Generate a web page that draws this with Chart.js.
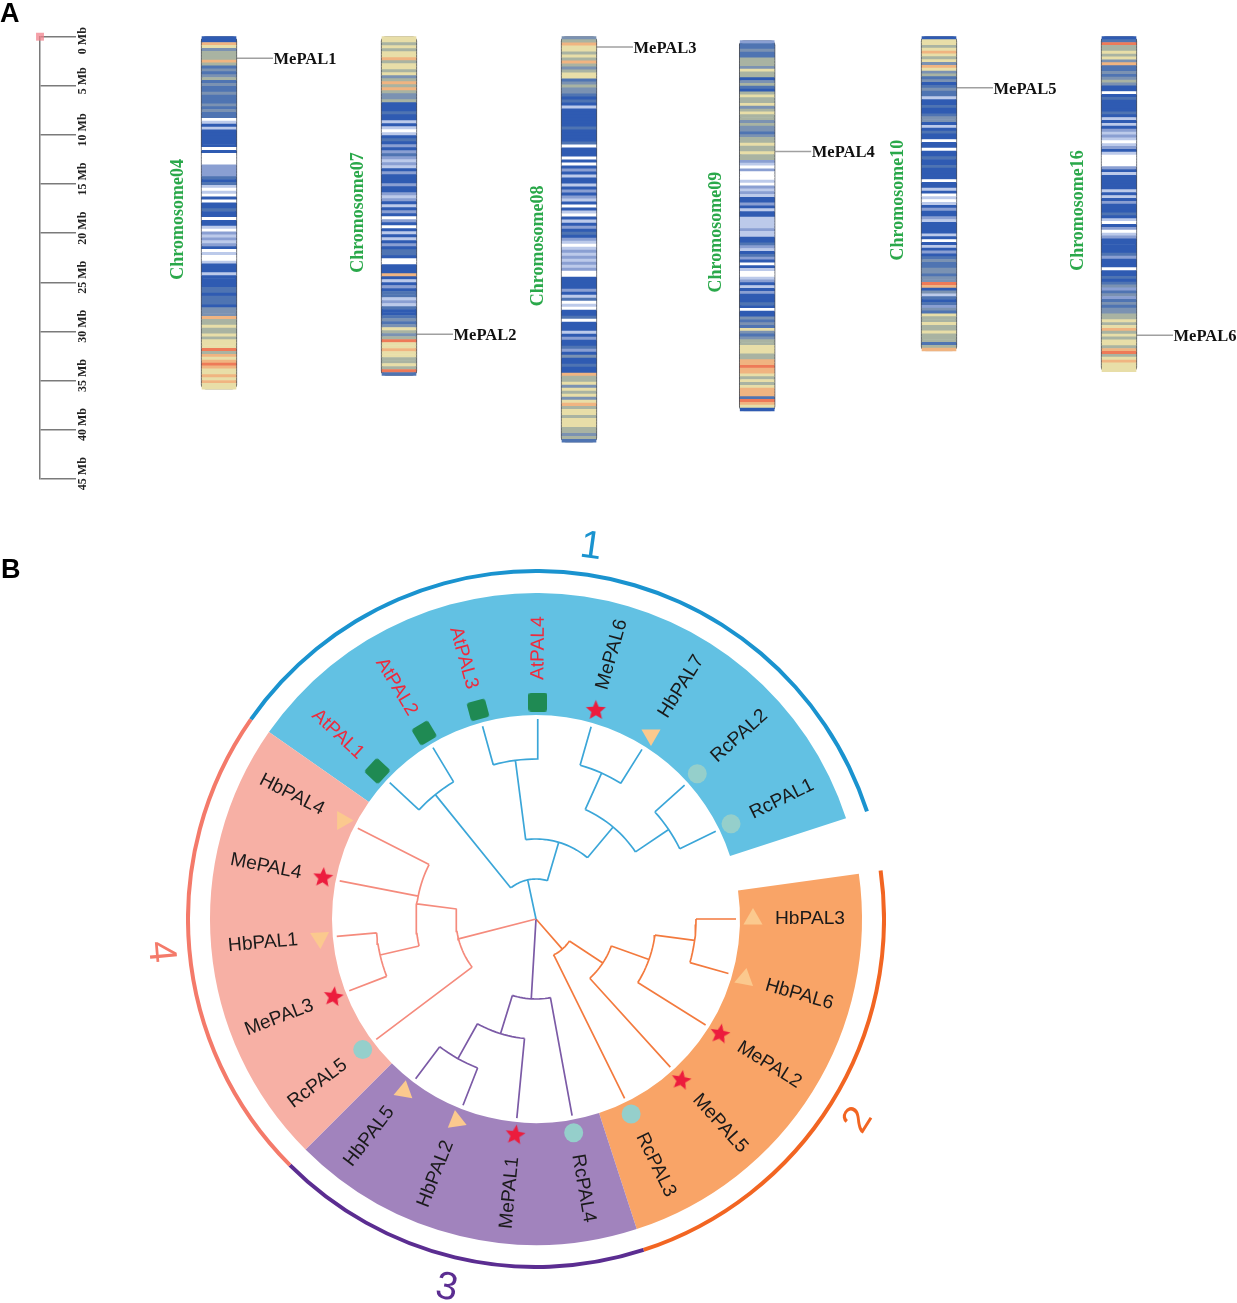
<!DOCTYPE html>
<html>
<head>
<meta charset="utf-8">
<title>MePAL chromosome map and PAL tree</title>
<script src="https://cdn.jsdelivr.net/npm/chart.js@4/dist/chart.umd.min.js"></script>
<style>
  html, body { margin: 0; padding: 0; background: #fff; }
  #page { position: relative; width: 1237px; height: 1303px; overflow: hidden; }
  canvas { position: absolute; }
  #chromChart { filter: blur(0.5px); }
  .panel { position: absolute; font: bold 27px "Liberation Sans", sans-serif; color: #000; line-height: 1; }
</style>
</head>
<body>
<div id="page">
  <canvas id="rulerChart" style="left:0;top:0"></canvas>
  <canvas id="chromChart" style="left:0;top:0"></canvas>
  <canvas id="ringChart" style="left:186px;top:569px"></canvas>
  <canvas id="treeChart" style="left:0;top:500px"></canvas>
  <div class="panel" style="left:0;top:0">A</div>
  <div class="panel" style="left:1px;top:556px">B</div>
</div>
<script>
// ---- panel A data: chromosomes (Mb) and binned gene density classes
const chromNames = ['Chromosome04', 'Chromosome07', 'Chromosome08', 'Chromosome09', 'Chromosome10', 'Chromosome16'];
const chromStart = [0, 0, 0, 0.4, 0, 0];
const chromEnd = [35.9, 34.5, 41.3, 38.1, 32, 34.1];
const mbTicks = [0, 5, 10, 15, 20, 25, 30, 35, 40, 45];

const chr04 = [3,3,8,7,5,6,6,6,8,6,4,5,4,5,6,4,5,4,4,5,4,4,4,5,4,5,4,4,0,1,3,1,3,3,3,3,3,3,0,3,0,0,0,0,2,2,2,2,4,3,4,1,0,1,0,3,0,3,3,4,3,3,0,3,3,1,0,2,1,2,1,2,3,0,1,0,0,1,3,3,3,1,3,3,3,3,4,4,3,4,4,4,3,5,5,5,8,6,6,7,6,6,7,6,7,7,7,9,6,8,7,8,9,8,7,7,8,7,8,7,7];
const chr07 = [7,7,6,7,6,7,7,8,6,7,7,6,7,5,6,8,6,8,6,5,5,6,3,3,3,4,3,3,1,3,1,0,1,3,4,3,2,3,2,4,2,1,2,1,3,2,3,3,3,2,3,3,2,1,2,3,1,3,2,3,0,2,3,0,3,1,3,1,3,2,3,4,4,3,0,0,3,3,3,8,3,1,3,2,3,4,4,1,2,1,4,3,3,4,5,4,5,7,6,5,6,9,7,7,8,7,7,6,6,7,6,9,4];
const chr08 = [5,6,8,7,7,6,7,6,8,6,5,6,7,7,4,5,6,5,5,4,3,4,3,1,3,3,3,3,3,3,4,3,3,3,3,4,0,3,3,3,0,3,0,3,2,3,1,3,3,1,3,2,3,2,1,3,0,3,1,0,3,1,3,2,3,4,3,2,1,0,1,2,1,2,1,2,1,2,0,0,3,3,3,3,2,3,1,4,0,1,0,3,3,4,0,3,3,3,1,3,2,3,3,4,2,3,5,3,3,4,3,3,8,6,6,7,5,7,6,7,5,7,8,6,7,7,6,7,7,7,6,6,5,6,4];
const chr09 = [2,4,4,5,4,4,6,6,6,5,7,6,6,3,5,6,4,3,6,7,6,6,7,5,6,7,6,6,5,6,5,5,4,5,6,6,7,6,6,7,6,6,2,1,0,2,0,0,0,1,0,2,1,2,1,3,3,2,3,1,3,3,1,1,1,1,2,1,1,3,3,4,2,1,3,4,2,3,0,3,1,0,0,1,2,3,1,3,2,3,3,3,4,3,0,3,3,5,4,5,4,7,5,4,5,6,6,7,7,7,6,6,8,8,9,8,8,7,6,7,6,7,8,8,8,4,9,8,7,3];
const chr10 = [3,7,7,6,7,8,7,6,7,5,8,7,5,6,4,5,3,4,5,4,4,1,3,3,4,3,3,4,5,5,3,1,3,4,3,3,0,3,3,0,3,3,4,3,3,4,3,3,3,3,0,3,3,1,3,0,1,0,1,3,2,3,3,2,1,3,3,3,3,1,3,0,3,1,3,2,3,4,5,4,4,5,5,4,5,5,9,8,3,5,1,4,3,4,2,5,4,7,6,6,7,6,6,7,6,6,6,4,6,8];
const chr16 = [3,4,9,6,6,7,6,7,5,8,4,4,5,4,5,6,5,3,3,0,3,4,3,3,3,3,4,3,1,3,1,3,2,1,2,1,0,1,2,3,1,0,0,0,0,2,3,1,3,3,3,3,3,1,3,1,3,2,3,3,3,4,3,1,0,3,2,0,1,2,3,3,3,3,3,4,2,3,3,3,0,3,3,4,3,4,5,2,4,5,2,4,5,4,5,5,6,6,7,6,7,8,6,7,6,7,7,6,8,9,6,7,8,7,7,7];
const chromBands = [chr04, chr07, chr08, chr09, chr10, chr16];
const densityColors = ['#ffffff', '#bccaea', '#8a9fd2', '#2f5bb2', '#4f74b2', '#7b92b2', '#a9b3a2', '#e8dea8', '#f0b481', '#ee7a58'];

const geneNames = ['MePAL1', 'MePAL2', 'MePAL3', 'MePAL4', 'MePAL5', 'MePAL6'];
const geneChrom = [0, 1, 2, 3, 4, 5];
const genePosMb = [2.2, 30.3, 1.05, 11.7, 5.2, 30.4];
const chr09SpotMb = 22.64;

// ---- panel B data: leaves clockwise from the top (degrees), marker per species
const leafNames = ['AtPAL4','MePAL6','HbPAL7','RcPAL2','RcPAL1','HbPAL3','HbPAL6','MePAL2','MePAL5','RcPAL3','RcPAL4','MePAL1','HbPAL2','HbPAL5','RcPAL5','MePAL3','HbPAL1','MePAL4','HbPAL4','AtPAL1','AtPAL2','AtPAL3'];
const leafAngles = [0.5,16,32,48,64,90,106,122,138,154,170,185.5,201.5,217.5,233,249,265,281,297,313,329,344.5];
const leafTilt = [0,0,180,0,0,0,10,10,10,0,0,8,-8,10,0,8,177,5,90,-47,-31,-15];

// clade spans around the ring: blue, gap, orange, purple, pink
const ringStart = 305;
const ringSpans = [127, 10, 80, 63, 80];
const ringFill = ['#62c1e3', 'rgba(0,0,0,0)', '#f9a467', '#a183bd', '#f7b0a5'];
const ringEdge = ['#1a93cf', 'rgba(0,0,0,0)', '#f26522', '#5b2d91', '#f47a6a'];

// tree branches: radial [angle, r0, r1], arcs [r, a0, a1]
const blueEdges = [[348,0,40],[321,40,160],[313,160,200],[329,160,200],[16.5,40,80],[352.6,80,160],[344.5,160,200],[0.5,160,200],[40,80,120],[24.2,120,160],[16,160,200],[32,160,200],[56,120,160],[48,160,200],[64,160,200]];
const blueArcs = [[40,-38.3,16.6],[160,313,329],[80,-7.4,40],[160,-15.5,0.5],[120,24.2,56],[160,16,32],[160,48,64]];
const pinkEdges = [[255.6,0,80],[277.2,80,120],[297,120,200],[281,120,200],[257,120,160],[265,160,200],[249,160,200],[233,80,200]];
const pinkArcs = [[80,233,277.4],[120,257,297],[160,249,265]];
const purpleEdges = [[183.4,0,80],[169.6,80,200],[197.2,80,120],[185.5,120,200],[209.2,120,160],[217,160,200],[201.4,160,200]];
const purpleArcs = [[80,169.5,197.2],[120,185.5,209.3],[160,201.4,217]];
const orangeEdges = [[138.8,0,40],[153.7,40,200],[123.4,40,80],[137.8,80,200],[109.7,80,120],[122,120,200],[97.7,120,160],[90,160,200],[105.8,160,200]];
const orangeArcs = [[40,123.4,153.6],[80,109.6,137.6],[120,97.7,122],[160,90,105.8]];

const cladeNumbers = ['1', '2', '3', '4'];

// ---- layout
const chromSlot = [0, 1, 2, 2.99, 4, 5];
const SERIF = '"Liberation Serif", serif';
const SANS = '"Liberation Sans", sans-serif';

Chart.defaults.animation = false;
Chart.defaults.responsive = false;
Chart.defaults.devicePixelRatio = 1;
Chart.defaults.layout.autoPadding = false;
Chart.defaults.plugins.legend.display = false;
Chart.defaults.plugins.tooltip.enabled = false;

function sizeCanvas(id, w, h) {
    const c = document.getElementById(id);
    c.width = w;
    c.height = h;
    c.style.width = w + 'px';
    c.style.height = h + 'px';
    return c;
}

// draws rotated text items at data positions, items come from labels(chart)
function textPlugin(labels) {
    return {
        id: 'texts',
        afterDatasetsDraw(chart) {
            const ctx = chart.ctx;
            labels().forEach(t => {
                ctx.save();
                ctx.translate(chart.scales.x.getPixelForValue(t.x), chart.scales.y.getPixelForValue(t.y));
                ctx.rotate((t.rot || 0) * Math.PI / 180);
                ctx.font = t.font;
                ctx.fillStyle = t.color;
                ctx.textAlign = t.align || 'center';
                ctx.textBaseline = 'middle';
                ctx.fillText(t.text, 0, t.dy || 0);
                ctx.restore();
            });
        }
    };
}

// ---- ruler
new Chart(sizeCanvas('rulerChart', 130, 500), {
    type: 'scatter',
    data: { datasets: [{
        data: [{ x: 1, y: 0 }],
        pointStyle: 'rect',
        pointRadius: 5.6,
        pointBorderWidth: 0,
        pointBackgroundColor: 'rgba(242,130,140,0.75)',
        clip: false
    }] },
    options: {
        layout: { padding: { top: 36.7, bottom: 21.3 } },
        scales: {
            x: { display: false, min: 0, max: 1 },
            y: {
                position: 'right',
                reverse: true,
                min: 0,
                max: 45,
                afterBuildTicks: s => { s.ticks = mbTicks.map(value => ({ value })); },
                afterFit: s => { s.width = 90; },
                border: { color: '#7a7a7a', width: 1.5 },
                grid: { drawOnChartArea: false, color: '#7a7a7a', lineWidth: 1.5, tickLength: 36 },
                ticks: {
                    autoSkip: false,
                    minRotation: 90,
                    maxRotation: 90,
                    crossAlign: 'center',
                    padding: -16,
                    labelOffset: -5,
                    color: '#222',
                    font: { family: SERIF, size: 12, weight: 'bold' },
                    callback: v => (v === 0 ? '0 Mb\u00a0\u00a0\u00a0\u00a0\u00a0\u00a0' : v + ' Mb')
                }
            }
        }
    }
});

// ---- chromosomes
const chromDatasets = chromBands.map((bins, i) => {
    const step = (chromEnd[i] - chromStart[i]) / bins.length;
    return {
        type: 'bar',
        grouped: false,
        barThickness: 34,
        data: bins.map((d, k) => ({ x: chromSlot[i], y: [chromStart[i] + k * step, chromStart[i] + (k + 1) * step] })),
        backgroundColor: bins.map(d => densityColors[d])
    };
});
chromDatasets.push({
    type: 'bar',
    grouped: false,
    barThickness: 36,
    data: chromNames.map((n, i) => ({ x: chromSlot[i], y: [chromStart[i], chromEnd[i]] })),
    backgroundColor: 'rgba(0,0,0,0)',
    borderColor: '#4a4d55',
    borderWidth: 1.8,
    borderSkipped: false,
    borderRadius: 5
});
geneNames.forEach((g, i) => {
    const s = chromSlot[geneChrom[i]];
    chromDatasets.push({
        type: 'scatter',
        showLine: true,
        data: [{ x: s + 0.1, y: genePosMb[i] }, { x: s + 0.3, y: genePosMb[i] }],
        borderColor: '#a0a0a0',
        borderWidth: 1.5,
        pointRadius: 0
    });
});
chromDatasets.push({
    type: 'scatter',
    data: [{ x: chromSlot[3] - 0.033, y: chr09SpotMb }],
    pointRadius: 3.5,
    pointBorderWidth: 0,
    pointBackgroundColor: 'rgba(90,80,180,0.7)'
});

new Chart(sizeCanvas('chromChart', 1237, 500), {
    data: { datasets: chromDatasets },
    options: {
        scales: {
            x: { type: 'linear', display: false, offset: false, min: -1.2167, max: 5.6556 },
            y: { type: 'linear', display: false, reverse: true, min: -3.737, max: 47.18 }
        }
    },
    plugins: [textPlugin(() => [
        ...chromNames.map((n, i) => ({
            text: n,
            x: chromSlot[i] - 0.226,
            y: (chromStart[i] + chromEnd[i]) / 2 + 0.65,
            rot: -90,
            font: 'bold 18px ' + SERIF,
            color: '#2aa84a'
        })),
        ...geneNames.map((g, i) => ({
            text: g,
            x: chromSlot[geneChrom[i]] + 0.303,
            y: genePosMb[i],
            dy: 1.5,
            align: 'left',
            font: 'bold 16.5px ' + SERIF,
            color: '#111'
        }))
    ])]
});

// ---- coloured ring
new Chart(sizeCanvas('ringChart', 700, 700), {
    type: 'doughnut',
    data: {
        labels: ['1', 'gap', '2', '3', '4'],
        datasets: [
            { data: ringSpans, backgroundColor: ringEdge, weight: 4 },
            { data: ringSpans, backgroundColor: 'rgba(0,0,0,0)', weight: 20 },
            { data: ringSpans, backgroundColor: ringFill, weight: 122 }
        ]
    },
    options: { rotation: ringStart, cutout: 204, borderWidth: 0, elements: { arc: { borderWidth: 0 } } }
});

// ---- tree and leaf markers
const toXY = (r, deg) => ({ x: r * Math.sin(deg * Math.PI / 180), y: r * Math.cos(deg * Math.PI / 180) });
const GAP = { x: NaN, y: NaN };

function branchPoints(edges, arcs) {
    const pts = [];
    edges.forEach(([a, r0, r1]) => pts.push(toXY(r0, a), toXY(r1, a), GAP));
    arcs.forEach(([r, a0, a1]) => {
        for (let a = a0; a < a1; a += 2) pts.push(toXY(r, a));
        pts.push(toXY(r, a1), GAP);
    });
    return pts;
}

function branchDataset(edges, arcs, color) {
    return {
        showLine: true,
        data: branchPoints(edges, arcs),
        borderColor: color,
        borderWidth: 1.7,
        pointRadius: 0
    };
}

function starCanvas(outer, color) {
    const size = Math.ceil(outer * 2 + 2);
    const c = document.createElement('canvas');
    c.width = size;
    c.height = size;
    const ctx = c.getContext('2d');
    ctx.translate(size / 2, size / 2);
    ctx.beginPath();
    for (let i = 0; i < 10; i++) {
        const r = i % 2 ? outer * 0.45 : outer;
        const a = i * Math.PI / 5;
        ctx.lineTo(r * Math.sin(a), -r * Math.cos(a));
    }
    ctx.closePath();
    ctx.fillStyle = color;
    ctx.fill();
    return c;
}

function squareCanvas(side, corner, color) {
    const c = document.createElement('canvas');
    c.width = side;
    c.height = side;
    const ctx = c.getContext('2d');
    ctx.beginPath();
    ctx.roundRect(0, 0, side, side, corner);
    ctx.fillStyle = color;
    ctx.fill();
    return c;
}

const speciesOf = n => n.slice(0, 2);
const markerStyle = { Me: starCanvas(10.5, '#ec1c3d'), Hb: 'triangle', Rc: 'circle', At: squareCanvas(19, 3, '#1f8a53') };
const markerColor = { Me: '#ec1c3d', Hb: '#fbc98e', Rc: '#95cfcb', At: '#1f8a53' };
const markerSize = { Me: 10.5, Hb: 11, Rc: 9.5, At: 11 };

const ringLabels = () => leafNames.map((n, i) => {
    const a = leafAngles[i];
    const right = a <= 180;
    const p = toXY(239, a);
    return {
        text: n,
        x: p.x,
        y: p.y,
        rot: right ? a - 90 : a - 270,
        align: right ? 'left' : 'right',
        font: '19.2px ' + SANS,
        color: speciesOf(n) === 'At' ? '#ee2a3c' : '#1a1a1a'
    };
});

const numberLabels = () => [
    { r: 376, a: 8.4, rot: 8, color: '#1a93cf' },
    { r: 380, a: 122, rot: -58, color: '#f26522' },
    { r: 380, a: 193.6, rot: 10, color: '#5b2d91' },
    { r: 377, a: 265, rot: 85, color: '#f47a6a' }
].map((t, i) => {
    const p = toXY(t.r, t.a);
    return { text: cladeNumbers[i], x: p.x, y: p.y, rot: t.rot, font: '39px ' + SANS, color: t.color };
});

new Chart(sizeCanvas('treeChart', 1237, 803), {
    type: 'scatter',
    data: { datasets: [
        branchDataset(blueEdges, blueArcs, '#3ba6d8'),
        branchDataset(pinkEdges, pinkArcs, '#f58b7d'),
        branchDataset(purpleEdges, purpleArcs, '#7b5aa6'),
        branchDataset(orangeEdges, orangeArcs, '#f37a3e'),
        {
            data: leafAngles.map(a => toXY(217, a)),
            pointStyle: leafNames.map(n => markerStyle[speciesOf(n)]),
            pointBackgroundColor: leafNames.map(n => markerColor[speciesOf(n)]),
            pointRadius: leafNames.map(n => markerSize[speciesOf(n)]),
            pointRotation: leafTilt,
            pointBorderWidth: 0,
            pointBorderColor: 'rgba(0,0,0,0)'
        }
    ] },
    options: {
        scales: {
            x: { type: 'linear', display: false, min: -536, max: 701 },
            y: { type: 'linear', display: false, min: -384, max: 419 }
        }
    },
    plugins: [textPlugin(() => [...ringLabels(), ...numberLabels()])]
});
</script>
</body>
</html>
